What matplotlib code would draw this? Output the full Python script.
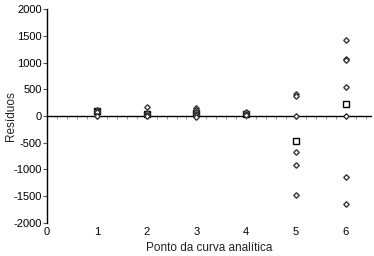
import numpy as np
import matplotlib
matplotlib.use("Agg")
from matplotlib import pyplot as plt

# residuals per calibration point (individual replicates)
ponto = [1, 1, 1, 1, 1,
         2, 2, 2, 2,
         3, 3, 3, 3, 3, 3,
         4, 4, 4,
         5, 5, 5, 5, 5, 5,
         6, 6, 6, 6, 6, 6, 6]
residuos = [110, 95, 80, 65, 0,
            160, 60, 20, 0,
            145, 110, 75, 40, 10, -20,
            70, 40, 10,
            405, 370, 0, -680, -925, -1475,
            1425, 1070, 1045, 540, 0, -1135, -1650]

# mean residual per point
ponto_media = [1, 2, 3, 4, 5, 6]
residuo_medio = [85, 40, 55, 40, -460, 215]

x_ticks = [0, 1, 2, 3, 4, 5, 6]
y_ticks = [-2000, -1500, -1000, -500, 0, 500, 1000, 1500, 2000]

plt.rcParams['font.family'] = ['Liberation Sans', 'DejaVu Sans']
plt.rcParams['axes.unicode_minus'] = False

fig = plt.figure(figsize=(3.74, 2.56), dpi=100)
ax = fig.add_axes([0.126, 0.13, 0.865, 0.834])

ax.plot(ponto_media, residuo_medio, linestyle='none', marker='s', markersize=4.2,
        markerfacecolor='white', markeredgecolor='black', markeredgewidth=1.0, zorder=3)
ax.plot(ponto, residuos, linestyle='none', marker='D', markersize=2.8,
        markerfacecolor='white', markeredgecolor='#333333', markeredgewidth=1.0, zorder=4)

ax.set_xlim(0, 6.5)
ax.set_ylim(-2000, 2000)

ax.spines['top'].set_visible(False)
ax.spines['right'].set_visible(False)
ax.spines['bottom'].set_position(('data', 0))
ax.spines['bottom'].set_linewidth(1.0)
ax.spines['left'].set_linewidth(1.0)

ax.set_xticks(x_ticks)
ax.set_xticks(np.arange(0, 6.5, 0.2), minor=True)
ax.tick_params(axis='x', which='major', direction='inout', length=5, labelbottom=False, color='#555555')
ax.tick_params(axis='x', which='minor', direction='out', length=2, color='#888888')

ax.set_yticks(y_ticks)
ax.tick_params(axis='y', which='major', direction='out', length=3, labelsize=8, pad=1, color='#555555')

sec = ax.secondary_xaxis(0)
sec.set_xticks(x_ticks)
sec.spines['bottom'].set_visible(False)
sec.tick_params(length=0, labelsize=8, pad=3)
sec.set_xlabel('Ponto da curva analítica', fontsize=8.5, labelpad=4, color='#222222')

ax.set_ylabel('Resíduos', fontsize=8.5, color='#222222')
ax.yaxis.set_label_coords(-0.092, 0.5)

fig.savefig('out.png', dpi=100)
